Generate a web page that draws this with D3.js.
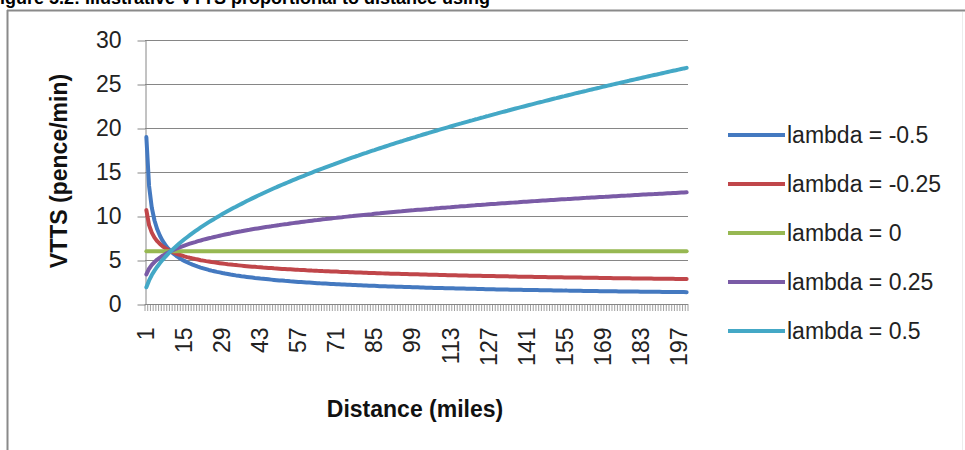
<!DOCTYPE html>
<html><head><meta charset="utf-8">
<script src="https://cdn.jsdelivr.net/npm/d3@7/dist/d3.min.js"></script>
<style>
body{margin:0;background:#fff}
svg{display:block}
text{font-family:"Liberation Sans",Arial,sans-serif}
</style>
</head><body>
<svg id="c" width="965" height="450"></svg>
<script>
// ---- DATA ----
const categories = [
1,2,3,4,5,6,7,8,9,10,11,12,13,14,15,16,17,18,19,20,
21,22,23,24,25,26,27,28,29,30,31,32,33,34,35,36,37,38,39,40,
41,42,43,44,45,46,47,48,49,50,51,52,53,54,55,56,57,58,59,60,
61,62,63,64,65,66,67,68,69,70,71,72,73,74,75,76,77,78,79,80,
81,82,83,84,85,86,87,88,89,90,91,92,93,94,95,96,97,98,99,100,
101,102,103,104,105,106,107,108,109,110,111,112,113,114,115,116,117,118,119,120,
121,122,123,124,125,126,127,128,129,130,131,132,133,134,135,136,137,138,139,140,
141,142,143,144,145,146,147,148,149,150,151,152,153,154,155,156,157,158,159,160,
161,162,163,164,165,166,167,168,169,170,171,172,173,174,175,176,177,178,179,180,
181,182,183,184,185,186,187,188,189,190,191,192,193,194,195,196,197,198,199,200];

const lambdaMinus050 = [
18.97,13.42,10.95,9.49,8.49,7.75,7.17,6.71,6.32,6.00,5.72,5.48,5.26,5.07,4.90,4.74,4.60,4.47,4.35,4.24,
4.14,4.05,3.96,3.87,3.79,3.72,3.65,3.59,3.52,3.46,3.41,3.35,3.30,3.25,3.21,3.16,3.12,3.08,3.04,3.00,
2.96,2.93,2.89,2.86,2.83,2.80,2.77,2.74,2.71,2.68,2.66,2.63,2.61,2.58,2.56,2.54,2.51,2.49,2.47,2.45,
2.43,2.41,2.39,2.37,2.35,2.34,2.32,2.30,2.28,2.27,2.25,2.24,2.22,2.21,2.19,2.18,2.16,2.15,2.13,2.12,
2.11,2.10,2.08,2.07,2.06,2.05,2.03,2.02,2.01,2.00,1.99,1.98,1.97,1.96,1.95,1.94,1.93,1.92,1.91,1.90,
1.89,1.88,1.87,1.86,1.85,1.84,1.83,1.83,1.82,1.81,1.80,1.79,1.78,1.78,1.77,1.76,1.75,1.75,1.74,1.73,
1.72,1.72,1.71,1.70,1.70,1.69,1.68,1.68,1.67,1.66,1.66,1.65,1.65,1.64,1.63,1.63,1.62,1.62,1.61,1.60,
1.60,1.59,1.59,1.58,1.58,1.57,1.56,1.56,1.55,1.55,1.54,1.54,1.53,1.53,1.52,1.52,1.51,1.51,1.50,1.50,
1.50,1.49,1.49,1.48,1.48,1.47,1.47,1.46,1.46,1.46,1.45,1.45,1.44,1.44,1.43,1.43,1.43,1.42,1.42,1.41,
1.41,1.41,1.40,1.40,1.40,1.39,1.39,1.38,1.38,1.38,1.37,1.37,1.37,1.36,1.36,1.36,1.35,1.35,1.35,1.34];

const lambdaMinus025 = [
10.67,8.97,8.11,7.54,7.14,6.82,6.56,6.34,6.16,6.00,5.86,5.73,5.62,5.52,5.42,5.33,5.25,5.18,5.11,5.05,
4.98,4.93,4.87,4.82,4.77,4.73,4.68,4.64,4.60,4.56,4.52,4.49,4.45,4.42,4.39,4.36,4.33,4.30,4.27,4.24,
4.22,4.19,4.17,4.14,4.12,4.10,4.08,4.05,4.03,4.01,3.99,3.97,3.95,3.94,3.92,3.90,3.88,3.87,3.85,3.83,
3.82,3.80,3.79,3.77,3.76,3.74,3.73,3.72,3.70,3.69,3.68,3.66,3.65,3.64,3.63,3.61,3.60,3.59,3.58,3.57,
3.56,3.55,3.53,3.52,3.51,3.50,3.49,3.48,3.47,3.46,3.45,3.45,3.44,3.43,3.42,3.41,3.40,3.39,3.38,3.37,
3.37,3.36,3.35,3.34,3.33,3.33,3.32,3.31,3.30,3.29,3.29,3.28,3.27,3.27,3.26,3.25,3.24,3.24,3.23,3.22,
3.22,3.21,3.20,3.20,3.19,3.18,3.18,3.17,3.17,3.16,3.15,3.15,3.14,3.14,3.13,3.12,3.12,3.11,3.11,3.10,
3.10,3.09,3.09,3.08,3.07,3.07,3.06,3.06,3.05,3.05,3.04,3.04,3.03,3.03,3.02,3.02,3.01,3.01,3.00,3.00,
3.00,2.99,2.99,2.98,2.98,2.97,2.97,2.96,2.96,2.95,2.95,2.95,2.94,2.94,2.93,2.93,2.93,2.92,2.92,2.91,
2.91,2.90,2.90,2.90,2.89,2.89,2.89,2.88,2.88,2.87,2.87,2.87,2.86,2.86,2.86,2.85,2.85,2.84,2.84,2.84];

const lambdaZero = [
6,6,6,6,6,6,6,6,6,6,6,6,6,6,6,6,6,6,6,6,
6,6,6,6,6,6,6,6,6,6,6,6,6,6,6,6,6,6,6,6,
6,6,6,6,6,6,6,6,6,6,6,6,6,6,6,6,6,6,6,6,
6,6,6,6,6,6,6,6,6,6,6,6,6,6,6,6,6,6,6,6,
6,6,6,6,6,6,6,6,6,6,6,6,6,6,6,6,6,6,6,6,
6,6,6,6,6,6,6,6,6,6,6,6,6,6,6,6,6,6,6,6,
6,6,6,6,6,6,6,6,6,6,6,6,6,6,6,6,6,6,6,6,
6,6,6,6,6,6,6,6,6,6,6,6,6,6,6,6,6,6,6,6,
6,6,6,6,6,6,6,6,6,6,6,6,6,6,6,6,6,6,6,6,
6,6,6,6,6,6,6,6,6,6,6,6,6,6,6,6,6,6,6,6];

const lambdaPlus025 = [
3.37,4.01,4.44,4.77,5.05,5.28,5.49,5.67,5.84,6.00,6.14,6.28,6.41,6.53,6.64,6.75,6.85,6.95,7.04,7.14,
7.22,7.31,7.39,7.47,7.54,7.62,7.69,7.76,7.83,7.90,7.96,8.02,8.09,8.15,8.21,8.26,8.32,8.38,8.43,8.49,
8.54,8.59,8.64,8.69,8.74,8.79,8.83,8.88,8.93,8.97,9.02,9.06,9.10,9.15,9.19,9.23,9.27,9.31,9.35,9.39,
9.43,9.47,9.51,9.54,9.58,9.62,9.65,9.69,9.72,9.76,9.79,9.83,9.86,9.90,9.93,9.96,9.99,10.03,10.06,10.09,
10.12,10.15,10.18,10.21,10.25,10.28,10.30,10.33,10.36,10.39,10.42,10.45,10.48,10.51,10.53,10.56,10.59,10.62,10.64,10.67,
10.70,10.72,10.75,10.78,10.80,10.83,10.85,10.88,10.90,10.93,10.95,10.98,11.00,11.03,11.05,11.07,11.10,11.12,11.14,11.17,
11.19,11.21,11.24,11.26,11.28,11.30,11.33,11.35,11.37,11.39,11.42,11.44,11.46,11.48,11.50,11.52,11.54,11.56,11.59,11.61,
11.63,11.65,11.67,11.69,11.71,11.73,11.75,11.77,11.79,11.81,11.83,11.85,11.87,11.89,11.91,11.92,11.94,11.96,11.98,12.00,
12.02,12.04,12.06,12.07,12.09,12.11,12.13,12.15,12.17,12.18,12.20,12.22,12.24,12.25,12.27,12.29,12.31,12.32,12.34,12.36,
12.38,12.39,12.41,12.43,12.44,12.46,12.48,12.49,12.51,12.53,12.54,12.56,12.58,12.59,12.61,12.62,12.64,12.66,12.67,12.69];

const lambdaPlus050 = [
1.90,2.68,3.29,3.79,4.24,4.65,5.02,5.37,5.69,6.00,6.29,6.57,6.84,7.10,7.35,7.59,7.82,8.05,8.27,8.49,
8.70,8.90,9.10,9.30,9.49,9.67,9.86,10.04,10.22,10.39,10.56,10.73,10.90,11.06,11.23,11.38,11.54,11.70,11.85,12.00,
12.15,12.30,12.44,12.59,12.73,12.87,13.01,13.15,13.28,13.42,13.55,13.68,13.81,13.94,14.07,14.20,14.33,14.45,14.57,14.70,
14.82,14.94,15.06,15.18,15.30,15.41,15.53,15.65,15.76,15.87,15.99,16.10,16.21,16.32,16.43,16.54,16.65,16.76,16.86,16.97,
17.08,17.18,17.29,17.39,17.49,17.60,17.70,17.80,17.90,18.00,18.10,18.20,18.30,18.40,18.49,18.59,18.69,18.78,18.88,18.97,
19.07,19.16,19.26,19.35,19.44,19.54,19.63,19.72,19.81,19.90,19.99,20.08,20.17,20.26,20.35,20.44,20.52,20.61,20.70,20.79,
20.87,20.96,21.04,21.13,21.21,21.30,21.38,21.47,21.55,21.63,21.72,21.80,21.88,21.96,22.05,22.13,22.21,22.29,22.37,22.45,
22.53,22.61,22.69,22.77,22.85,22.93,23.00,23.08,23.16,23.24,23.32,23.39,23.47,23.55,23.62,23.70,23.77,23.85,23.93,24.00,
24.08,24.15,24.22,24.30,24.37,24.45,24.52,24.59,24.67,24.74,24.81,24.88,24.96,25.03,25.10,25.17,25.24,25.31,25.39,25.46,
25.53,25.60,25.67,25.74,25.81,25.88,25.95,26.02,26.08,26.15,26.22,26.29,26.36,26.43,26.50,26.56,26.63,26.70,26.77,26.83];

const seriesNames = ["lambda = -0.5","lambda = -0.25","lambda = 0","lambda = 0.25","lambda = 0.5"];
const seriesValues = [lambdaMinus050, lambdaMinus025, lambdaZero, lambdaPlus025, lambdaPlus050];
const seriesColors = ["#4479c0","#c0464a","#97b852","#7a5ba6","#44a8c6"];
const yTickValues = [0,5,10,15,20,25,30];
const xTickLabels = ["1","15","29","43","57","71","85","99","113","127","141","155","169","183","197"];
const xTitle = "Distance (miles)";
const yTitle = "VTTS (pence/min)";
const figureCaption = "Figure 5.2: Illustrative VTTS proportional to distance using";

// ---- LAYOUT ----
const svg = d3.select("#c");
const L = 145, R = 688, T = 40, B = 304;
const grey = "#868686";

// page frame + caption cut off by the top edge (as in the source)
svg.append("text").attr("x",-11).attr("y",4).attr("font-size",18).attr("font-weight","bold")
  .attr("fill","#000").text(figureCaption);
svg.append("line").attr("x1",7).attr("x2",965).attr("y1",10.5).attr("y2",10.5)
  .attr("stroke","#8a8a8a").attr("stroke-width",2);
svg.append("line").attr("x1",7.5).attr("x2",7.5).attr("y1",10).attr("y2",450)
  .attr("stroke","#8a8a8a").attr("stroke-width",2);
svg.append("line").attr("x1",962.5).attr("x2",962.5).attr("y1",12).attr("y2",450)
  .attr("stroke","#ececec").attr("stroke-width",1);

const x = d3.scaleBand().domain(categories).range([L,R]).padding(0);
const y = d3.scaleLinear().domain([0,30]).range([B,T]);
const bw = x.bandwidth();

// gridlines
svg.append("g").selectAll("line").data(yTickValues.filter(v=>v>0)).join("line")
  .attr("x1",L).attr("x2",R).attr("y1",d=>Math.round(y(d))+0.5).attr("y2",d=>Math.round(y(d))+0.5)
  .attr("stroke",grey).attr("stroke-width",1);

// y axis
const yAxis = svg.append("g").attr("transform",`translate(${L+0.5},0.5)`)
  .call(d3.axisLeft(y).tickValues(yTickValues).tickSize(8).tickSizeOuter(0).tickPadding(16).tickFormat(d3.format("d")));
yAxis.select(".domain").attr("stroke",grey);
yAxis.selectAll(".tick line").attr("stroke",grey);
yAxis.selectAll("text").attr("font-size",23).attr("fill","#222").style("font-family","'Liberation Sans',Arial,sans-serif");

// x axis (labels)
const xAxis = svg.append("g").attr("transform",`translate(0,${B+0.5})`)
  .call(d3.axisBottom(x).tickValues(xTickLabels.map(Number)).tickSize(0).tickSizeOuter(0));
xAxis.select(".domain").attr("stroke",grey).attr("d",`M${L},0H${R}`);
xAxis.selectAll("text")
  .attr("transform","rotate(-90)")
  .attr("text-anchor","end")
  .attr("x",-23).attr("y",0).attr("dy","0.35em")
  .attr("font-size",23).attr("fill","#222")
  .style("font-family","'Liberation Sans',Arial,sans-serif");

// x tick marks at category boundaries
const boundaries = categories.map(c=>x(c)).concat([x(categories[categories.length-1])+bw]);
svg.append("g").selectAll("line").data(boundaries).join("line")
  .attr("x1",d=>d).attr("x2",d=>d).attr("y1",B).attr("y2",B+7)
  .attr("stroke",grey).attr("stroke-width",0.8);

// axis titles
svg.append("text").attr("x",415).attr("y",417).attr("text-anchor","middle")
  .attr("font-size",23).attr("font-weight","bold").attr("fill","#111").text(xTitle);
svg.append("text").attr("transform","translate(67,171) rotate(-90)").attr("text-anchor","middle")
  .attr("font-size",23).attr("font-weight","bold").attr("fill","#111").text(yTitle);

// series lines
const line = d3.line().x((d,i)=>x(categories[i])+bw/2).y(d=>y(d)).curve(d3.curveLinear);
svg.append("g").selectAll("path").data(seriesValues).join("path")
  .attr("d",d=>line(d)).attr("fill","none")
  .attr("stroke",(d,i)=>seriesColors[i]).attr("stroke-width",4)
  .attr("stroke-linejoin","round").attr("stroke-linecap","round");

// legend
const leg = svg.append("g").selectAll("g").data(seriesNames).join("g")
  .attr("transform",(d,i)=>`translate(728,${135+i*49})`);
leg.append("line").attr("x1",0).attr("x2",57).attr("y1",0).attr("y2",0)
  .attr("stroke",(d,i)=>seriesColors[i]).attr("stroke-width",4);
leg.append("text").attr("x",59).attr("y",0).attr("dy","0.35em")
  .attr("font-size",23).attr("fill","#222").text(d=>d);
</script>
</body></html>
